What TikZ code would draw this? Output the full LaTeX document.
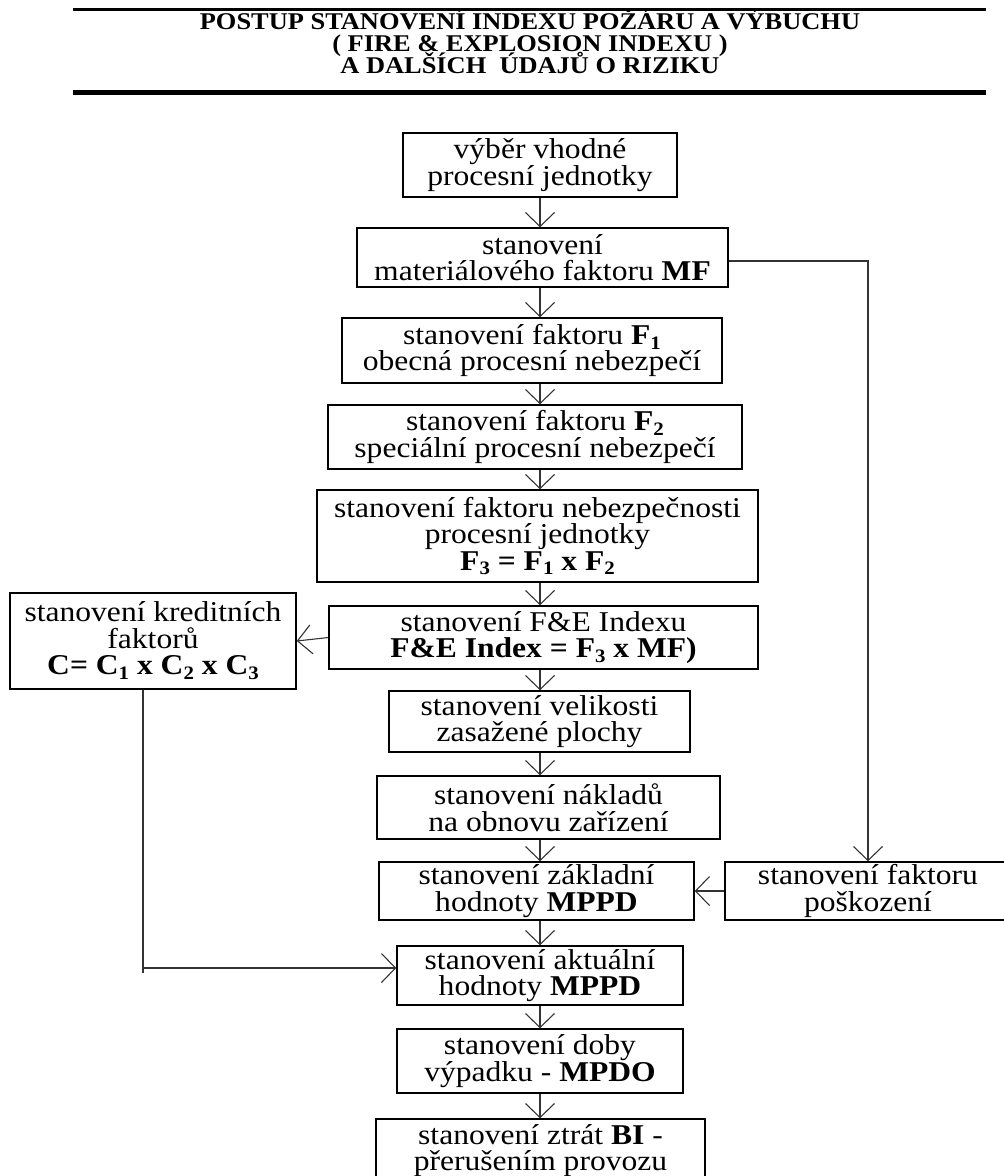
\documentclass[tikz,border=0pt]{standalone}
\usepackage{fontspec}
\setmainfont{Liberation Serif}[FakeStretch=1.1]
\usetikzlibrary{arrows.meta}
% bold-able subscript index of fixed size
\newcommand\subidx[1]{\raisebox{-0.17em}{\fontsize{19pt}{19pt}\selectfont #1}}
% box text: fixed line pitch regardless of accents
\newcommand\boxfont{\fontsize{28.7pt}{26.5pt}\selectfont\lineskiplimit -30pt\relax}
\begin{document}
\begin{tikzpicture}[x=1pt,y=-1pt,
  box/.style={draw=black, line width=1.5pt, inner sep=0pt, align=center, font=\boxfont},
  head/.style={anchor=base, inner sep=0pt,
               font=\bfseries\fontsize{24pt}{22pt}\selectfont},
  conn/.style={draw=black!80, line width=1.1pt},
  arr/.style={conn, -{Straight Barb[length=14pt,width=29pt]}}]
\useasboundingbox (0,0) rectangle (1004,1176);

% heading with rules
\draw[line width=3pt] (73,9) -- (986,9);
\draw[line width=5pt] (73,92) -- (986,92);
\node[head] (title1) at (530,29.5) {POSTUP STANOVENÍ INDEXU POŽÁRU A VÝBUCHU};
\node[head] (title2) at (530,51.5) {( FIRE \& EXPLOSION INDEXU )};
\node[head] (title3) at (530,73.5) {A DALŠÍCH\ \ ÚDAJŮ O RIZIKU};

% main column
\node[box, minimum width=274pt, minimum height=64pt] (sel) at (540,165) {výběr vhodné\\procesní jednotky};
\node[box, minimum width=371pt, minimum height=59pt] (mf) at (542.5,257.5) {stanovení\\materiálového faktoru \textbf{MF}};
\node[box, minimum width=380pt, minimum height=65pt] (f1) at (532,350.5) {stanovení faktoru \textbf{F\subidx{1}}\\obecná procesní nebezpečí};
\node[box, minimum width=414pt, minimum height=64pt] (f2) at (535,437) {stanovení faktoru \textbf{F\subidx{2}}\\speciální procesní nebezpečí};
\node[box, minimum width=441pt, minimum height=92pt] (f3) at (537.5,536) {stanovení faktoru nebezpečnosti\\procesní jednotky\\\textbf{F\subidx{3} = F\subidx{1} x F\subidx{2}}};
\node[box, minimum width=429pt, minimum height=63pt] (fe) at (543.5,637.5) {stanovení F\&E Indexu\\\textbf{F\&E Index = F\subidx{3} x MF)}};
\node[box, minimum width=301pt, minimum height=61pt] (vel) at (539.5,721.5) {stanovení velikosti\\zasažené plochy};
\node[box, minimum width=343pt, minimum height=63pt] (nak) at (548.5,807.5) {stanovení nákladů\\na obnovu zařízení};
\node[box, minimum width=315pt, minimum height=58pt] (mppd) at (536.5,891) {stanovení základní\\hodnoty \textbf{MPPD}};
\node[box, minimum width=286pt, minimum height=59pt] (akt) at (540,975.5) {stanovení aktuální\\hodnoty \textbf{MPPD}};
\node[box, minimum width=286pt, minimum height=64pt] (mpdo) at (540,1061) {stanovení doby\\výpadku - \textbf{MPDO}};
\node[box, minimum width=329pt, minimum height=63pt] (bi) at (540.5,1150.5) {stanovení ztrát \textbf{BI} -\\přerušením provozu};

% side boxes
\node[box, minimum width=286pt, minimum height=96pt] (cred) at (153,641) {stanovení kreditních\\faktorů\\\textbf{C= C\subidx{1} x C\subidx{2} x C\subidx{3}}};
\node[box, minimum width=286pt, minimum height=58pt] (pos) at (868,891) {stanovení faktoru\\poškození};

% connectors down the main column
\coordinate (vx) at (540,0);
\foreach \a/\b in {sel/mf, mf/f1, f1/f2, f2/f3, f3/fe, fe/vel, vel/nak, nak/mppd, mppd/akt, akt/mpdo, mpdo/bi}
  \draw[arr] (\a.south -| vx) -- (\b.north -| vx);

% material factor feeds the damage factor
\coordinate (mfout) at ([yshift=-3.5pt]mf.east);
\draw[arr] (mfout) -| (pos.north);
\draw[arr] (pos.west) -- (mppd.east);

% credit factors branch
\draw[arr] (fe.west) -- (cred.east);
\coordinate (cdrop) at ([xshift=-10pt]cred.south);
\coordinate (aktin) at ([yshift=7.5pt]akt.west);
\coordinate (lowend) at (0,973);
\draw[conn] (cdrop) -- (cdrop |- lowend);
\draw[arr] (cdrop |- aktin) -- (aktin);
\end{tikzpicture}
\end{document}
